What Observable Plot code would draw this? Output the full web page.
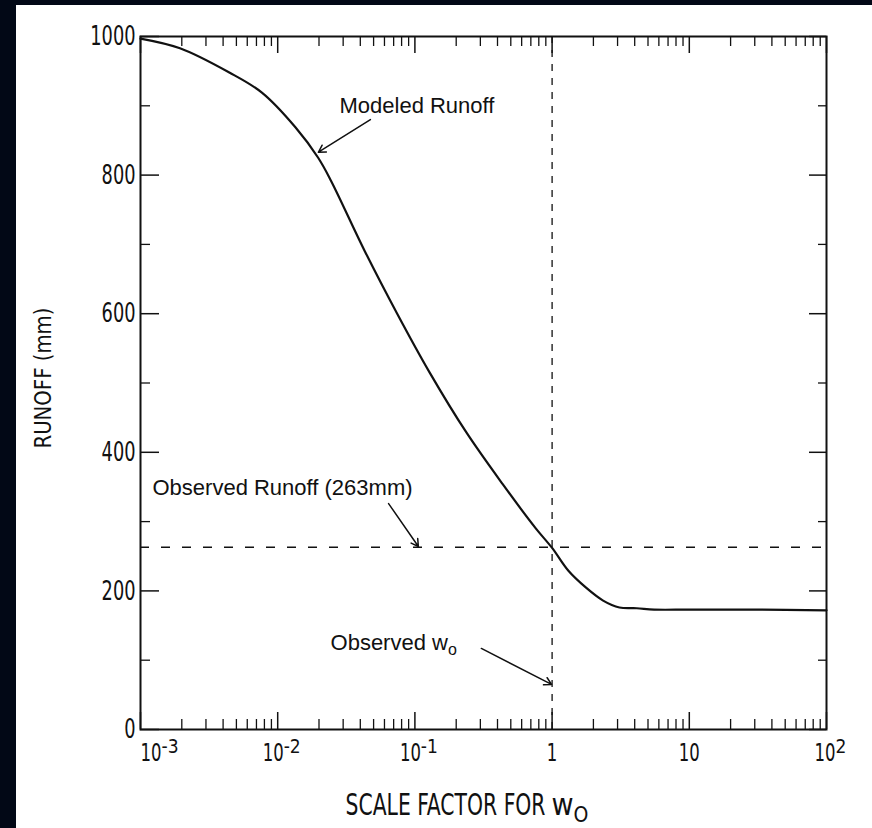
<!DOCTYPE html>
<html><head><meta charset="utf-8">
<script src="https://cdn.jsdelivr.net/npm/d3@7"></script>
<script src="https://cdn.jsdelivr.net/npm/@observablehq/plot@0.6"></script>
<style>
html,body{margin:0;padding:0;background:#020816;width:872px;height:828px;overflow:hidden}
#chart{position:absolute;left:16px;top:5px;width:856px;height:823px;background:#fff}
</style></head><body><div id="chart"></div>
<script>
// Modeled runoff curve (mm) vs scale factor for w0
const scaleFactor = [0.001, 0.00194, 0.00444, 0.00767, 0.01346, 0.01972, 0.02445, 0.04296, 0.0743, 0.1282, 0.2366, 0.4365, 0.7551, 1.0, 1.315, 1.759, 2.354, 3.096, 4.14, 5.54, 10, 31.6, 100];
const modeledRunoff = [997, 983, 948, 919, 869, 825, 792, 691, 600, 515, 429, 354, 291, 262, 229, 205, 186, 176, 175, 173, 173, 173, 172];
const observedRunoff = 263;
const observedW0 = 1;

// Axes
const xMajor = [0.001, 0.01, 0.1, 1, 10, 100];
const xBase = ["10", "10", "10", "1", "10", "10"];
const xExp = ["-3", "-2", "-1", "", "", "2"];
const xMinor = [2,3,4,5,6,7,8,9].flatMap(m => [0.001, 0.01, 0.1, 1, 10].map(d => m * d));
const yMajor = [0, 200, 400, 600, 800, 1000];
const yMinor = [100, 300, 500, 700, 900];
const yTitle = "RUNOFF (mm)";
const xTitle = "SCALE FACTOR FOR";
const xTitleW = "w";
const xTitleSub = "O";

// Annotations
const noteText = ["Modeled Runoff", "Observed Runoff (263mm)", "Observed w"];
const noteX = [0.0282, 0.001223, 0.02427];
const noteY = [900, 348, 125];
const arrowX1 = [0.0474, 0.0643, 0.305];
const arrowY1 = [880, 326, 117];
const arrowX2 = [0.0198, 0.106, 0.99];
const arrowY2 = [833, 264, 65];

const curve = scaleFactor.map((x, i) => ({x, y: modeledRunoff[i]}));
const notes = noteText.map((t, i) => ({t, x: noteX[i], y: noteY[i]}));
const arrows = arrowX1.map((x1, i) => ({x1, y1: arrowY1[i], x2: arrowX2[i], y2: arrowY2[i]}));

const W = 856, H = 823;
const mL = 124, mT = 31, mR = 46, mB = 99;
const iW = W - mL - mR, iH = H - mT - mB;
const ink = "#111";
const narrow = "'DejaVu Sans Condensed','Liberation Sans Narrow',sans-serif";
const sans = "'Liberation Sans',Arial,sans-serif";

const svg = Plot.plot({
  width: W, height: H,
  marginLeft: mL, marginTop: mT, marginRight: mR, marginBottom: mB,
  style: {background: "#fff", color: ink, fontFamily: narrow, fontSize: "24px"},
  x: {type: "log", domain: [0.001, 100], axis: null},
  y: {domain: [0, 1000]},
  marks: [
    Plot.ruleY([observedRunoff], {x1: 0.001, x2: 100, stroke: ink, strokeWidth: 1.6, strokeDasharray: "9,12"}),
    Plot.ruleX([observedW0], {y1: 0, y2: 1000, stroke: ink, strokeWidth: 1.3, strokeDasharray: "7,7"}),
    // inward ticks
    Plot.tickX(xMajor, {x: d => d, insetTop: iH - 17, stroke: ink, strokeWidth: 1.5}),
    Plot.tickX(xMajor, {x: d => d, insetBottom: iH - 17, stroke: ink, strokeWidth: 1.5}),
    Plot.tickX(xMinor, {x: d => d, insetTop: iH - 10, stroke: ink, strokeWidth: 1.3}),
    Plot.tickX(xMinor, {x: d => d, insetBottom: iH - 10, stroke: ink, strokeWidth: 1.3}),
    Plot.tickY(yMajor, {y: d => d, insetRight: iW - 19, stroke: ink, strokeWidth: 1.5}),
    Plot.tickY(yMajor, {y: d => d, insetLeft: iW - 17, stroke: ink, strokeWidth: 1.5}),
    Plot.tickY(yMinor, {y: d => d, insetRight: iW - 10, stroke: ink, strokeWidth: 1.3}),
    Plot.tickY(yMinor, {y: d => d, insetLeft: iW - 8, stroke: ink, strokeWidth: 1.3}),
    // tick labels
    Plot.text(xMajor, {x: d => d, frameAnchor: "bottom", lineAnchor: "top", dy: 14, text: (d, i) => xBase[i], fontSize: 25, fill: ink}),
    Plot.axisY({ticks: yMajor, tickSize: 0, tickPadding: 5, tickFormat: d => String(d), label: null, fontSize: 27}),
    // axis titles
    Plot.text([yTitle], {frameAnchor: "left", textAnchor: "middle", text: d => d, rotate: -90, dx: -97, dy: -5, fontSize: 23, fill: ink}),
    Plot.text([xTitle], {frameAnchor: "bottom", textAnchor: "start", text: d => d, dx: -(mL + iW / 2) + 345 - 16, dy: 85, fontSize: 30, fill: ink}),
    Plot.frame({stroke: ink, strokeWidth: 2}),
    // curve
    Plot.line(curve, {x: "x", y: "y", curve: "catmull-rom", stroke: ink, strokeWidth: 2.2}),
    // annotations
    Plot.arrow(arrows, {x1: "x1", y1: "y1", x2: "x2", y2: "y2", stroke: ink, strokeWidth: 1.5, headLength: 8}),
    Plot.text(notes, {x: "x", y: "y", text: "t", textAnchor: "start", fontFamily: sans, fontSize: 22, fill: ink, letterSpacing: 2})
  ]
});

const s = d3.select(svg);
let xi = 0;
s.selectAll('g[aria-label="text"] text').each(function() {
  const t = d3.select(this);
  const txt = t.text();
  if ((txt === "10" || txt === "1") && xi < xMajor.length) {
    const j = xi++;
    t.text(null);
    t.append("tspan").attr("textLength", 10.5 * xBase[j].length).attr("lengthAdjust", "spacingAndGlyphs").text(xBase[j]);
    if (xExp[j]) t.append("tspan").attr("dy", "-0.42em").attr("font-size", "19").text(xExp[j]);
    if (j === 0) t.attr("text-anchor", "start");
    else if (xExp[j]) t.attr("dx", 4);
  } else if (txt === "Observed w") {
    t.append("tspan").attr("dy", "0.3em").attr("font-size", "16").attr("letter-spacing", 0).text("o");
  } else if (txt === xTitle) {
    t.text(null);
    t.append("tspan").attr("textLength", 200).attr("lengthAdjust", "spacingAndGlyphs").text(xTitle);
    t.append("tspan").attr("dx", 6).text(xTitleW);
    t.append("tspan").attr("dy", "0.35em").attr("font-size", "21").text(xTitleSub);
  } else if (txt === yTitle) {
    t.attr("textLength", 141).attr("lengthAdjust", "spacingAndGlyphs");
  }
});
s.selectAll('g[aria-label="y-axis tick label"] text').each(function() {
  const t = d3.select(this);
  t.attr("textLength", 11.3 * t.text().length).attr("lengthAdjust", "spacingAndGlyphs");
});
document.getElementById("chart").appendChild(svg);
</script>
</body></html>
